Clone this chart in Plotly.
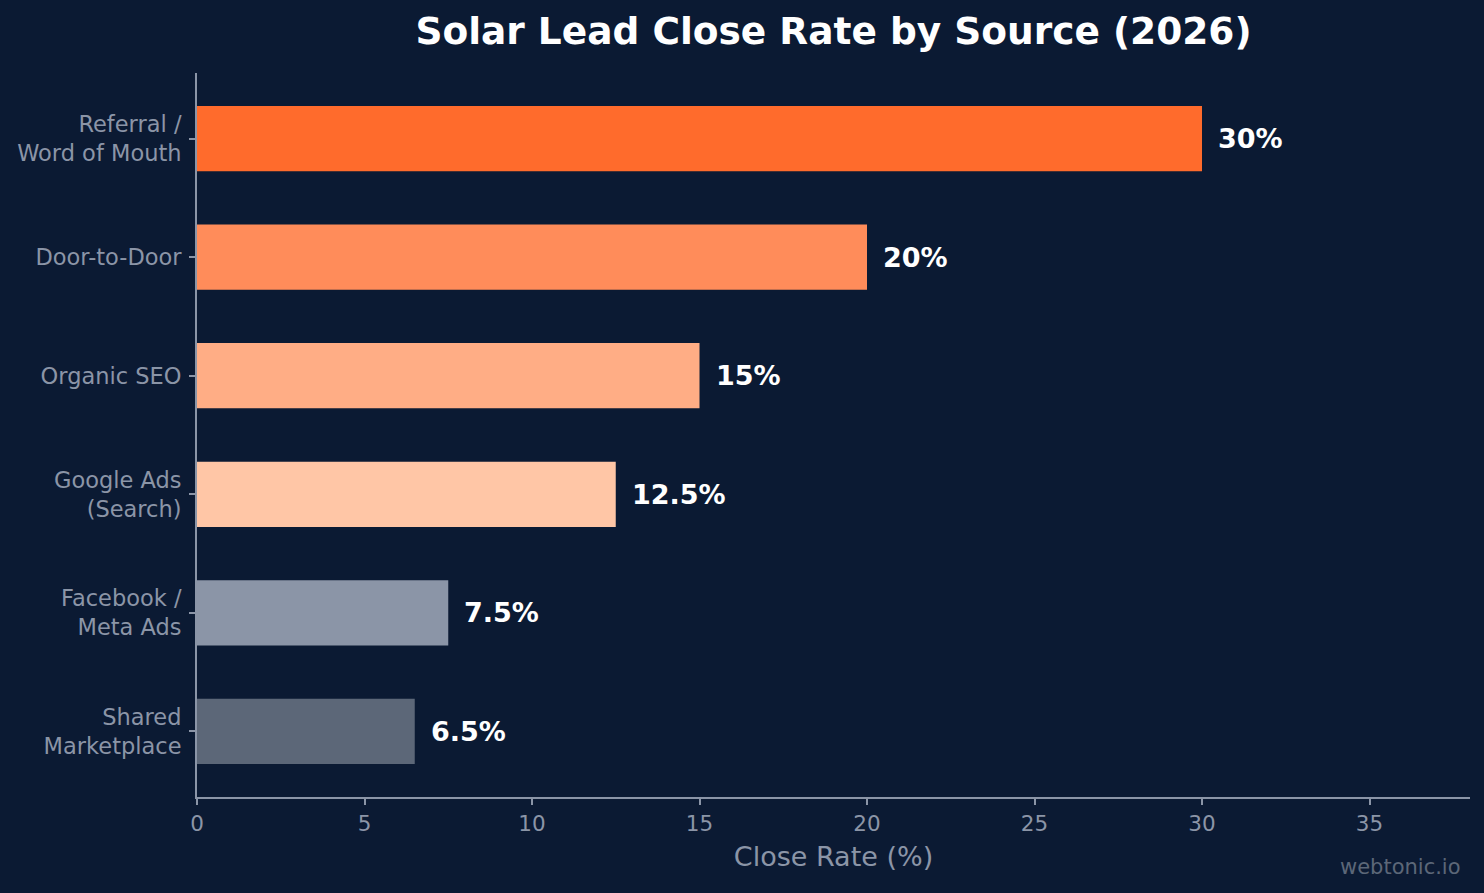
import plotly.graph_objects as go

categories = ["Referral /<br>Word of Mouth", "Door-to-Door", "Organic SEO",
              "Google Ads<br>(Search)", "Facebook /<br>Meta Ads", "Shared<br>Marketplace"]
close_rates = [30, 20, 15, 12.5, 7.5, 6.5]
value_labels = ["30%", "20%", "15%", "12.5%", "7.5%", "6.5%"]
bar_colors = ["#FF6B2C", "#FF8C5A", "#FFAD85", "#FFC6A6", "#8B95A7", "#5C6778"]
x_ticks = [0, 5, 10, 15, 20, 25, 30, 35]

BG = "#0B1A33"
GRAY = "#8B95A7"
FONT = "DejaVu Sans"

fig = go.Figure()
fig.add_trace(go.Bar(
    x=close_rates, y=categories, orientation="h",
    marker=dict(color=bar_colors, line=dict(width=0)),
    width=0.55, hoverinfo="skip",
))

for v, lab, c in zip(close_rates, value_labels, categories):
    fig.add_annotation(x=v, y=c, text=f"<b>{lab}</b>", showarrow=False,
                       xanchor="left", yanchor="middle", xshift=14,
                       font=dict(family=FONT, size=27, color="white"))

fig.add_annotation(x=1.0, y=0, xref="paper", yref="paper", text="webtonic.io",
                   showarrow=False, xanchor="right", yanchor="middle",
                   xshift=-7, yshift=-70,
                   font=dict(family=FONT, size=21, color="#5C6778"))

fig.update_layout(
    width=1484, height=893,
    paper_bgcolor=BG, plot_bgcolor=BG,
    margin=dict(l=197, r=14, t=73, b=96),
    showlegend=False,
    title=dict(text="<b>Solar Lead Close Rate by Source (2026)</b>",
               x=0.5, xref="paper", xanchor="center", y=1 - 31 / 893, yanchor="middle",
               font=dict(family=FONT, size=37.5, color="white")),
    xaxis=dict(range=[0, 38], tickvals=x_ticks, ticktext=[str(t) for t in x_ticks],
               showgrid=False, zeroline=False, showline=True, linecolor=GRAY, linewidth=2,
               ticks="outside", ticklen=6, tickwidth=2, tickcolor=GRAY,
               tickfont=dict(family=FONT, size=21.5, color=GRAY),
               title=dict(text="Close Rate (%)", standoff=12,
                          font=dict(family=FONT, size=27, color=GRAY))),
    yaxis=dict(categoryorder="array", categoryarray=categories,
               range=[5.5525, -0.5525],
               showgrid=False, zeroline=False, showline=True, linecolor=GRAY, linewidth=2,
               ticks="outside", ticklen=6, tickwidth=2, tickcolor=GRAY,
               ticklabelstandoff=3,
               tickfont=dict(family=FONT, size=22.5, color=GRAY)),
)

fig.write_html("out.html")
